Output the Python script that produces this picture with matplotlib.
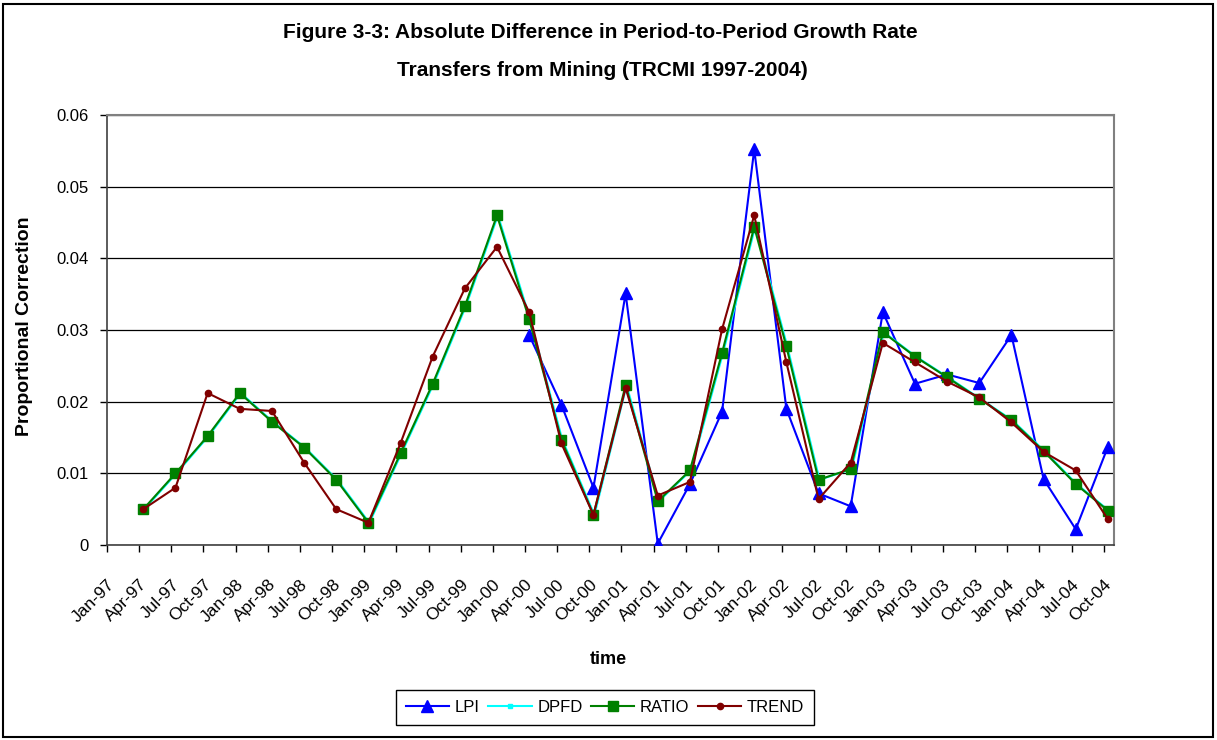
import numpy as np
import matplotlib
matplotlib.use('Agg')
import matplotlib.pyplot as plt
from matplotlib.patches import Rectangle

quarters = ['Jan-97', 'Apr-97', 'Jul-97', 'Oct-97', 'Jan-98', 'Apr-98', 'Jul-98', 'Oct-98',
            'Jan-99', 'Apr-99', 'Jul-99', 'Oct-99', 'Jan-00', 'Apr-00', 'Jul-00', 'Oct-00',
            'Jan-01', 'Apr-01', 'Jul-01', 'Oct-01', 'Jan-02', 'Apr-02', 'Jul-02', 'Oct-02',
            'Jan-03', 'Apr-03', 'Jul-03', 'Oct-03', 'Jan-04', 'Apr-04', 'Jul-04', 'Oct-04']

# series values from Apr-97 to Oct-04 (31 quarters)
ratio = [0.0050, 0.0100, 0.0152, 0.0212, 0.0172, 0.0136, 0.0091, 0.0031, 0.0128, 0.0225,
         0.0333, 0.0460, 0.0315, 0.0147, 0.0042, 0.0223, 0.0061, 0.0104, 0.0268, 0.0444,
         0.0277, 0.0091, 0.0106, 0.0297, 0.0263, 0.0234, 0.0204, 0.0174, 0.0131, 0.0085, 0.0048]
dpfd = [0.0050, 0.0100, 0.0152, 0.0212, 0.0172, 0.0136, 0.0091, 0.0031, 0.0128, 0.0225,
        0.0333, 0.0460, 0.0315, 0.0147, 0.0042, 0.0223, 0.0061, 0.0104, 0.0268, 0.0444,
        0.0277, 0.0091, 0.0106, 0.0297, 0.0263, 0.0234, 0.0204, 0.0174, 0.0131, 0.0085, 0.0048]
trend = [0.0050, 0.0080, 0.0212, 0.0190, 0.0187, 0.0115, 0.0050, 0.0031, 0.0142, 0.0263,
         0.0358, 0.0416, 0.0325, 0.0142, 0.0042, 0.0219, 0.0069, 0.0088, 0.0301, 0.0460,
         0.0255, 0.0064, 0.0115, 0.0282, 0.0255, 0.0228, 0.0206, 0.0171, 0.0130, 0.0104, 0.0036]
lpi = [np.nan] * 12 + [0.0293, 0.0196, 0.0080, 0.0351, 0.0002, 0.0085, 0.0186, 0.0552,
                       0.0190, 0.0072, 0.0054, 0.0325, 0.0225, 0.0238, 0.0226, 0.0293,
                       0.0092, 0.0022, 0.0137]

yticks = [0, 0.01, 0.02, 0.03, 0.04, 0.05, 0.06]
ytick_labels = ['0', '0.01', '0.02', '0.03', '0.04', '0.05', '0.06']

plt.rcParams['font.family'] = ['Liberation Sans', 'DejaVu Sans']

fig = plt.figure(figsize=(12.17, 7.40), dpi=100)
ax = fig.add_axes([107 / 1217, 1 - 545 / 740, (1114 - 107) / 1217, (545 - 115) / 740])

tick_pos = np.arange(len(quarters))
x = tick_pos[1:] + 0.13

ax.plot(x, lpi, color='#0000FF', lw=1.5, marker='^', ms=8.5, mec='#0000FF', mfc='#0000FF',
        label='LPI', zorder=3)
ax.plot(x + 0.03, dpfd, color='#00FFFF', lw=1.5, marker='s', ms=3, mec='#00FFFF',
        mfc='#00FFFF', label='DPFD', zorder=4)
ax.plot(x, ratio, color='#008000', lw=1.5, marker='s', ms=7, mec='#008000', mfc='#008000',
        label='RATIO', zorder=5)
ax.plot(x, trend, color='#800000', lw=1.5, marker='o', ms=4.5, mec='#800000', mfc='#800000',
        label='TREND', zorder=6)

ax.set_xlim(0, 31.32)
ax.set_ylim(0, 0.06)
ax.set_yticks(yticks)
ax.set_yticklabels(ytick_labels, fontsize=12)
ax.set_xticks(tick_pos)
ax.set_xticklabels(quarters, fontsize=12.5, rotation=45, ha='right', va='top',
                   rotation_mode='anchor')
ax.tick_params(axis='x', length=5, width=1, pad=18, direction='out')
ax.tick_params(axis='y', length=5, width=1, pad=8, direction='out')
ax.grid(axis='y', color='#000000', lw=0.9)
ax.set_axisbelow(True)

for s in ['left', 'bottom']:
    ax.spines[s].set_color('#404040')
    ax.spines[s].set_linewidth(1.2)
for s in ['top', 'right']:
    ax.spines[s].set_color('#808080')
    ax.spines[s].set_linewidth(1.5)

fig.text(600 / 1217, 1 - 33 / 740, 'Figure 3-3: Absolute Difference in Period-to-Period Growth Rate',
         ha='center', va='center', fontsize=15, fontweight='bold')
fig.text(602 / 1217, 1 - 70 / 740, 'Transfers from Mining (TRCMI 1997-2004)',
         ha='center', va='center', fontsize=15, fontweight='bold')

fig.text(25 / 1217, 1 - 326 / 740, 'Proportional Correction', rotation=90,
         ha='center', va='center', fontsize=14, fontweight='bold')
fig.text(608 / 1217, 1 - 659 / 740, 'time', ha='center', va='center',
         fontsize=13, fontweight='bold')

leg = fig.legend(loc='center', bbox_to_anchor=(605 / 1217, 1 - 707.5 / 740), ncol=4,
                 fontsize=12, frameon=True, fancybox=False, edgecolor='#000000',
                 handlelength=2.6, handletextpad=0.35, columnspacing=0.5,
                 borderpad=0.6, framealpha=1)
leg.get_frame().set_linewidth(1.0)

fig.patches.append(Rectangle((3 / 1217, 3 / 740), 1 - 7 / 1217, 1 - 7 / 740,
                             transform=fig.transFigure, fill=False, ec='#000000', lw=1.5))

fig.savefig('out.png', dpi=100)
